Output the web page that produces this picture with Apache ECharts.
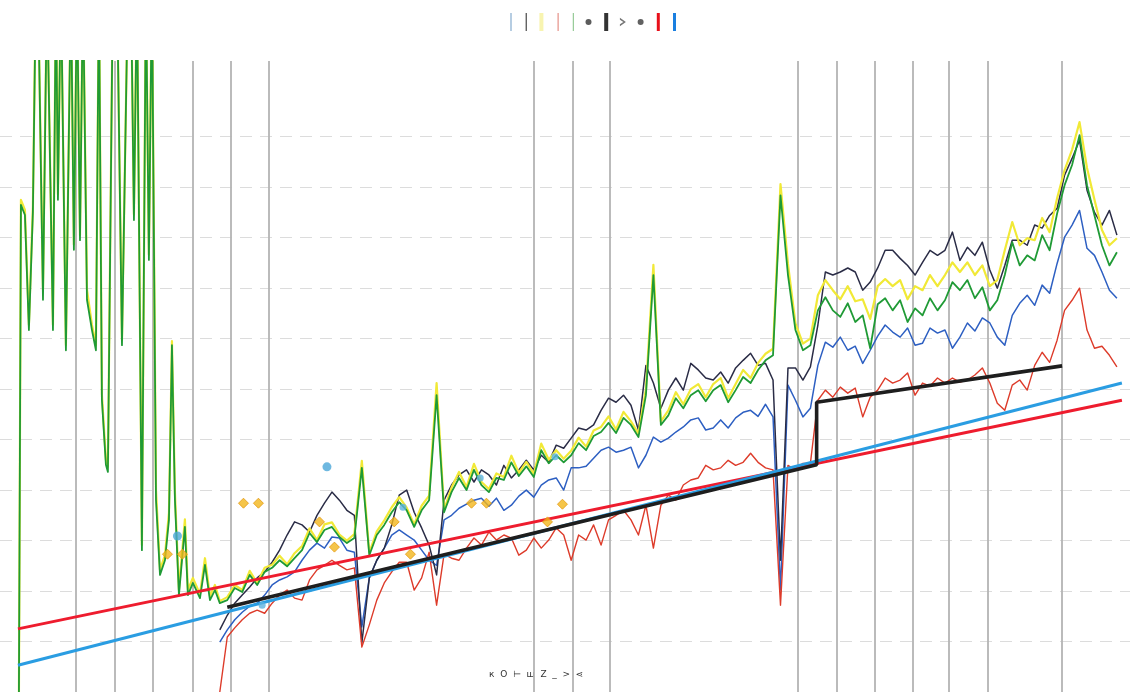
<!DOCTYPE html>
<html>
<head>
<meta charset="utf-8">
<script src="https://cdn.jsdelivr.net/npm/echarts@6/dist/echarts.min.js"></script>
<style>
  html, body { margin: 0; padding: 0; background: #ffffff; }
  #chart { width: 1130px; height: 692px; }
</style>
</head>
<body>
<div id="chart"></div>
<script>
// Regular sampling: one value every 6 days; x is measured in days.
const STEP_DAYS = 6;

// The regular part of every line series starts at sample index 27 (day 162).
const MAIN_START = 27;

// Thin blue series
const blueValues = [9.9, 12.3, 14.3, 15.8, 17.0, 17.6, 19.2, 21.2, 22.2, 22.8,
  23.8, 26.1, 28.1, 29.5, 28.5, 30.7, 30.5, 28.1, 27.7, 12.9,
  22.6, 26.1, 28.5, 31.1, 32.1, 31.1, 30.1, 28.1, 26.1, 25.1,
  34.1, 35.0, 36.4, 37.2, 38.0, 38.4, 36.8, 38.4, 36.0, 37.0,
  38.8, 40.0, 38.6, 41.0, 42.0, 42.4, 40.0, 44.4, 44.4, 44.7,
  46.3, 47.9, 48.5, 47.5, 47.9, 48.5, 44.4, 46.9, 50.5, 49.5,
  50.3, 51.5, 52.5, 53.9, 54.3, 51.9, 52.3, 53.9, 52.3, 54.3,
  55.4, 55.8, 54.6, 57.0, 54.5, 20.2, 60.8, 57.8, 54.5, 56.2,
  64.7, 69.3, 68.3, 70.3, 67.7, 68.5, 65.1, 67.7, 70.5, 72.7,
  71.3, 70.3, 72.1, 68.7, 69.1, 72.1, 71.1, 71.7, 68.1, 70.3,
  73.1, 71.5, 74.1, 73.1, 70.3, 68.7, 74.6, 77.0, 78.6, 76.6,
  80.6, 79.0, 84.9, 90.1, 92.5, 95.4, 87.9, 86.5, 83.2, 79.6, 78.0];

// Dark navy series
const navyValues = [12.3, 15.2, 17.6, 19.2, 20.8, 22.6, 23.8, 25.7, 28.1, 31.1,
  33.7, 33.1, 31.7, 35.0, 37.4, 39.6, 38.0, 36.0, 35.0, 9.7,
  22.6, 26.1, 28.5, 33.1, 39.0, 40.0, 35.6, 32.5, 29.1, 23.2,
  38.0, 41.0, 43.0, 44.0, 41.6, 44.0, 43.0, 41.0, 44.9, 42.4,
  44.0, 45.9, 44.0, 46.9, 45.5, 48.9, 48.3, 50.3, 52.3, 51.9,
  52.9, 55.8, 58.2, 57.4, 58.8, 56.8, 51.9, 64.7, 61.2, 56.2,
  59.8, 62.2, 59.8, 65.1, 63.8, 62.2, 61.8, 63.4, 61.2, 64.2,
  65.7, 67.1, 64.7, 65.1, 61.8, 26.1, 64.2, 64.2, 61.8, 64.4,
  72.7, 83.2, 82.6, 83.2, 84.0, 83.2, 79.6, 81.2, 84.0, 87.5,
  87.5, 85.9, 84.5, 82.6, 85.1, 87.5, 86.5, 87.5, 91.1, 85.5,
  88.1, 86.5, 89.1, 83.6, 80.0, 84.5, 89.5, 89.5, 88.5, 92.5,
  91.9, 94.4, 95.8, 102.4, 105.7, 109.3, 99.4, 95.0, 92.5, 95.4, 90.5];

// Thin red series
const redValues = [0.0, 10.9, 12.7, 14.3, 15.6, 16.2, 15.6, 17.6, 19.2, 20.2,
  18.6, 18.2, 22.2, 24.2, 25.1, 26.1, 25.1, 24.2, 24.6, 8.9,
  13.3, 18.2, 21.6, 23.8, 25.7, 25.7, 20.2, 22.6, 27.7, 17.2,
  27.3, 26.5, 26.1, 28.5, 30.5, 29.1, 31.7, 30.1, 31.1, 30.5,
  27.1, 28.1, 30.5, 28.5, 30.1, 32.5, 31.1, 26.1, 31.1, 30.1,
  33.1, 29.1, 34.1, 35.0, 36.0, 34.1, 31.1, 37.0, 28.5, 37.0,
  39.0, 38.0, 41.0, 42.0, 42.4, 44.9, 44.0, 44.4, 45.9, 44.9,
  45.5, 47.3, 45.5, 44.4, 44.0, 17.2, 44.9, 44.0, 45.3, 45.3,
  57.8, 59.8, 58.4, 60.4, 59.2, 60.2, 54.5, 58.4, 59.8, 62.2,
  61.2, 61.8, 63.2, 58.8, 61.2, 60.6, 62.2, 61.2, 62.2, 61.4,
  61.8, 62.8, 64.2, 61.2, 57.2, 55.8, 60.8, 61.8, 59.8, 64.7,
  67.3, 65.3, 69.7, 75.6, 77.6, 80.0, 71.7, 68.1, 68.5, 66.7, 64.4];

// Green series: irregular early readings [day, value] (values above the axis run off the top),
// then the regular part
const greenEarly = [[0.8, 0], [2.4, 96.5], [5.6, 94.5], [8.8, 71.7], [12.0, 95.1], [14.4, 140],
  [16.1, 140], [20.1, 77.7], [23.3, 140], [24.9, 140], [28.1, 71.7], [30.5, 140], [32.1, 97.5],
  [34.5, 140], [38.5, 67.7], [42.5, 140], [44.9, 87.6], [47.4, 140], [49.8, 89.5], [52.2, 140],
  [55.4, 77.7], [59.4, 71.7], [62.6, 67.7], [65.0, 140], [67.4, 57.8], [70.6, 45.0], [72.2, 43.6],
  [76.2, 140], [79.5, 140], [83.5, 68.7], [88.3, 140], [90.7, 140], [93.1, 93.5], [95.5, 140],
  [99.5, 28.1], [102.7, 140], [105.1, 85.6], [107.5, 140], [110.8, 38.0], [114.0, 23.2],
  [118.0, 26.1], [121.2, 34.1], [123.6, 68.7], [126.0, 38.0], [129.2, 19.2], [134.0, 32.7],
  [136.4, 19.2], [140.4, 21.6], [146.1, 18.6], [150.1, 25.2], [154.1, 18.2], [158.1, 20.2]];
const greenValues = [17.6, 18.2, 20.6, 19.8, 23.2, 21.2, 23.8, 24.6, 26.1, 24.9,
  26.5, 28.1, 31.5, 29.7, 32.1, 32.7, 30.7, 29.5, 30.5, 44.4,
  27.1, 31.1, 33.1, 35.6, 37.6, 36.0, 32.7, 36.0, 38.0, 58.8,
  35.6, 39.6, 42.4, 40.0, 44.0, 41.0, 39.6, 42.4, 42.0, 45.5,
  42.8, 44.7, 42.6, 47.9, 45.3, 46.9, 45.5, 46.9, 49.3, 47.9,
  50.7, 51.5, 53.3, 51.3, 54.3, 52.9, 50.5, 58.8, 82.6, 52.9,
  54.8, 58.2, 56.2, 58.8, 59.8, 57.6, 59.8, 60.8, 57.4, 59.8,
  62.4, 61.2, 63.8, 65.7, 66.7, 98.4, 82.6, 71.7, 67.7, 68.7,
  75.6, 78.2, 75.6, 74.3, 77.0, 73.3, 74.6, 68.1, 76.8, 78.0,
  75.6, 77.6, 73.3, 76.0, 74.6, 78.0, 75.6, 77.6, 81.2, 79.6,
  81.6, 78.0, 80.2, 75.6, 77.6, 82.6, 89.1, 84.5, 86.5, 85.5,
  90.5, 87.5, 94.8, 100.4, 104.4, 110.3, 100.4, 94.4, 88.5, 84.5, 87.1];

// Yellow series: early readings, then the regular part
const yellowEarly = [[0.8, 0], [2.4, 97.5], [5.6, 95.5], [8.8, 72.7], [12.0, 96.1], [14.4, 140],
  [16.1, 140], [20.1, 79.7], [23.3, 140], [24.9, 140], [28.1, 72.7], [30.5, 140], [32.1, 98.5],
  [34.5, 140], [38.5, 68.7], [42.5, 140], [44.9, 88.6], [47.4, 140], [49.8, 90.5], [52.2, 140],
  [55.4, 79.7], [59.4, 72.7], [62.6, 68.7], [65.0, 140], [67.4, 58.8], [70.6, 46.0], [72.2, 44.6],
  [76.2, 140], [79.5, 140], [83.5, 69.7], [88.3, 140], [90.7, 140], [93.1, 94.5], [95.5, 140],
  [99.5, 29.1], [102.7, 140], [105.1, 86.6], [107.5, 140], [110.8, 40.0], [114.0, 24.2],
  [118.0, 27.1], [121.2, 35.5], [123.6, 69.5], [126.0, 39.5], [129.2, 20.2], [134.0, 34.2],
  [136.4, 20.2], [140.4, 22.6], [146.1, 19.4], [150.1, 26.5], [154.1, 19.0], [158.1, 21.2]];
const yellowValues = [18.0, 18.8, 21.2, 20.2, 24.0, 21.6, 24.6, 25.2, 27.0, 25.3,
  27.5, 28.9, 32.4, 30.1, 33.2, 33.6, 31.2, 30.0, 31.3, 45.8,
  27.6, 31.8, 34.0, 36.6, 38.6, 36.5, 33.2, 36.9, 38.9, 61.2,
  36.1, 40.5, 43.6, 40.6, 45.2, 41.6, 40.2, 43.3, 42.6, 46.8,
  43.4, 45.6, 43.2, 49.2, 46.0, 47.9, 46.2, 47.8, 50.4, 48.6,
  51.8, 52.5, 54.6, 52.0, 55.5, 53.6, 51.2, 60.0, 84.6, 53.6,
  55.8, 59.4, 57.0, 60.0, 61.0, 58.4, 61.0, 62.2, 58.2, 61.0,
  63.8, 62.2, 65.2, 67.0, 68.0, 100.6, 84.8, 73.0, 69.0, 70.0,
  78.6, 81.6, 79.6, 77.8, 80.4, 77.4, 77.8, 73.9, 80.4, 81.8,
  80.4, 81.6, 77.8, 80.4, 79.6, 82.6, 80.4, 82.6, 85.1, 83.2,
  85.1, 82.6, 84.5, 80.4, 81.6, 87.5, 93.1, 88.5, 89.9, 89.5,
  93.9, 91.1, 97.8, 103.4, 107.4, 112.9, 103.8, 97.5, 91.5, 88.5, 89.9];

// Stepped level line: [day, value]
const levelPoints = [[168, 16.8], [641, 45.0], [641, 57.4], [838, 64.6]];

// Straight trend lines: [day, value]
const trendRedPoints = [[0, 12.5], [886, 57.8]];
const trendBluePoints = [[0, 5.3], [886, 61.2]];

// Point markers: [day, value]
const bigDots = [[128, 30.9], [248, 44.6]];
const smallDots = [[196, 17.2], [309, 36.6], [371, 42.4], [431, 46.6]];
const diamonds = [[120, 27.3], [132, 27.3], [181, 37.4], [193, 37.4], [242, 33.7], [254, 28.7],
  [302, 33.7], [315, 27.3], [364, 37.4], [376, 37.4], [425, 33.7], [437, 37.2]];

// Vertical reference lines (days)
const monthLines = [46, 78, 108, 140, 171, 201, 414, 445, 475, 626, 657, 688, 718, 747, 778, 838];

const footnote = 'к  О  ⊢  ш  Z  _  >  ⋖';

function toPairs(values, start) {
  return values.map((v, k) => [(start + k) * STEP_DAYS, v]);
}

const thin = (color, width) => ({ color, width, join: 'round' });

const chart = echarts.init(document.getElementById('chart'), null, { renderer: 'canvas' });

// Horizontal guides every 10 units; the two top ones (120 and the axis end) are left out.
const gridColors = [];
for (let k = 0; k < 12; k++) gridColors.push('#dcdcdc');
gridColors.push('rgba(0,0,0,0)', 'rgba(0,0,0,0)');

const linePath = 'path://M0,0L1,0L1,18L0,18Z';
const widePath = 'path://M0,0L4,0L4,18L0,18Z';
const barPath = 'path://M0,0L3,0L3,18L0,18Z';
const chevron = 'path://M0,0L5,3.5L0,7L0,5.4L2.9,3.5L0,1.6Z';

chart.setOption({
  animation: false,
  backgroundColor: '#ffffff',
  grid: { left: 0, right: 0, top: 61, bottom: 0 },
  xAxis: {
    type: 'value', min: -14.4, max: 892.5,
    axisLine: { show: false }, axisTick: { show: false }, axisLabel: { show: false },
    splitLine: { show: false }
  },
  yAxis: {
    type: 'value', min: 0, max: 125, interval: 10,
    axisLine: { show: false }, axisTick: { show: false }, axisLabel: { show: false },
    splitLine: { show: true, lineStyle: { color: gridColors, width: 1.2, type: [12, 8] } }
  },
  legend: {
    left: 503, top: 8, itemWidth: 6, itemHeight: 18, itemGap: 11.7,
    formatter: () => '',
    itemStyle: { borderWidth: 0 },
    data: [
      { name: 'blue', icon: linePath, itemStyle: { color: '#6f9cc6' } },
      { name: 'navy', icon: linePath, itemStyle: { color: '#222222' } },
      { name: 'yellow', icon: widePath, itemStyle: { color: '#f8f4b0' } },
      { name: 'red', icon: linePath, itemStyle: { color: '#e07b70' } },
      { name: 'green', icon: linePath, itemStyle: { color: '#7fbf80' } },
      { name: 'points A', icon: 'circle', itemStyle: { color: '#333333' } },
      { name: 'level', icon: widePath, itemStyle: { color: '#333333' } },
      { name: 'points B', icon: chevron, itemStyle: { color: '#555555' } },
      { name: 'points C', icon: 'circle', itemStyle: { color: '#3a3a3a' } },
      { name: 'trend red', icon: barPath, itemStyle: { color: '#e8101a' } },
      { name: 'trend blue', icon: barPath, itemStyle: { color: '#1a7fe0' } }
    ]
  },
  graphic: [{
    type: 'text', left: 489, top: 670,
    style: { text: footnote, fill: '#333333', font: '9px "DejaVu Sans"' }
  }],
  series: [
    {
      name: 'month lines', type: 'line', data: [], z: 1,
      markLine: {
        silent: true, symbol: ['none', 'none'], z: 1, animation: false,
        label: { show: false },
        lineStyle: { color: '#b4b4b4', width: 1.8, type: 'solid' },
        data: monthLines.map(d => ({ xAxis: d }))
      }
    },
    { name: 'blue', type: 'line', z: 3, showSymbol: false, data: toPairs(blueValues, MAIN_START),
      lineStyle: thin('#2d5fc2', 1.5), itemStyle: { color: '#2d5fc2' } },
    { name: 'navy', type: 'line', z: 3, showSymbol: false, data: toPairs(navyValues, MAIN_START),
      lineStyle: thin('#2a2c46', 1.5), itemStyle: { color: '#2a2c46' } },
    { name: 'yellow', type: 'line', z: 3, showSymbol: false,
      data: yellowEarly.concat(toPairs(yellowValues, MAIN_START)),
      lineStyle: thin('#f1e936', 2.2), itemStyle: { color: '#f1e936' } },
    { name: 'red', type: 'line', z: 3, showSymbol: false, data: toPairs(redValues, MAIN_START),
      lineStyle: thin('#dd3b2a', 1.4), itemStyle: { color: '#dd3b2a' } },
    { name: 'green', type: 'line', z: 3, showSymbol: false,
      data: greenEarly.concat(toPairs(greenValues, MAIN_START)),
      lineStyle: thin('#1f9a35', 1.8), itemStyle: { color: '#1f9a35' } },
    { name: 'points A', type: 'scatter', z: 6, data: bigDots, symbol: 'circle', symbolSize: 9,
      itemStyle: { color: '#4aa6d8' } },
    { name: 'level', type: 'line', z: 5, showSymbol: false, data: levelPoints,
      lineStyle: { color: '#1e1e1e', width: 3.6 }, itemStyle: { color: '#1e1e1e' } },
    { name: 'points B', type: 'scatter', z: 6, data: diamonds, symbol: 'diamond', symbolSize: 10,
      itemStyle: { color: '#f3b71c', borderColor: '#e39a12', borderWidth: 1 } },
    { name: 'points C', type: 'scatter', z: 6, data: smallDots, symbol: 'circle', symbolSize: 7,
      itemStyle: { color: '#5cb3e0' } },
    { name: 'trend red', type: 'line', z: 4, showSymbol: false, data: trendRedPoints,
      lineStyle: { color: '#ee1c2e', width: 3 }, itemStyle: { color: '#ee1c2e' } },
    { name: 'trend blue', type: 'line', z: 4, showSymbol: false, data: trendBluePoints,
      lineStyle: { color: '#2a9de2', width: 3 }, itemStyle: { color: '#2a9de2' } }
  ]
});
</script>
</body>
</html>
